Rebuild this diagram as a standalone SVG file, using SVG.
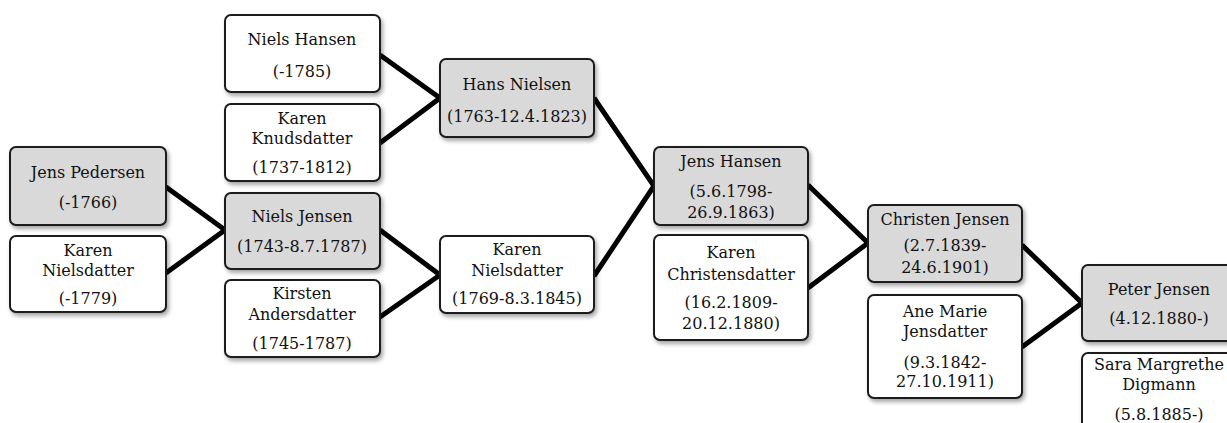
<svg xmlns="http://www.w3.org/2000/svg" width="1227" height="423" viewBox="0 0 1227 423">
<defs>
<filter id="sh" x="-10%" y="-10%" width="125%" height="130%">
<feDropShadow dx="2" dy="3" stdDeviation="2" flood-color="#000" flood-opacity="0.35"/>
</filter>
<style>
.b{stroke:#1a1a1a;stroke-width:2;filter:url(#sh)}
.g{fill:#d9d9d9}
.w{fill:#ffffff}
text{font-family:"DejaVu Serif","Liberation Serif",serif;font-size:16px;fill:#111;text-anchor:middle}
.c{fill:none;stroke:#000;stroke-width:5;stroke-linejoin:miter;stroke-miterlimit:10}
</style>
</defs>
<rect width="1227" height="423" fill="#fff"/>
<g id="connectors">
<polyline class="c" points="166,187 225,230 166,273"/>
<polyline class="c" points="380,55 440,98 380,143"/>
<polyline class="c" points="380,230 440,275 380,317"/>
<polyline class="c" points="594,98 654,186 594,276"/>
<polyline class="c" points="808,185 868,243 808,288"/>
<polyline class="c" points="1022,245 1082,303 1022,347"/>
</g>
<g id="jens-pedersen"><rect class="b g" x="10" y="147" width="156" height="78" rx="6"/><text x="88" y="178">Jens Pedersen</text><text x="88" y="208">(-1766)</text></g>
<g id="karen-nielsdatter-1"><rect class="b w" x="10" y="236" width="156" height="76" rx="6"/><text x="88" y="256">Karen</text><text x="88" y="276">Nielsdatter</text><text x="88" y="304">(-1779)</text></g>
<g id="niels-hansen"><rect class="b w" x="225" y="15" width="155" height="77" rx="6"/><text x="302" y="45">Niels Hansen</text><text x="302" y="77">(-1785)</text></g>
<g id="karen-knudsdatter"><rect class="b w" x="225" y="104" width="155" height="77" rx="6"/><text x="302" y="124">Karen</text><text x="302" y="144">Knudsdatter</text><text x="302" y="173">(1737-1812)</text></g>
<g id="niels-jensen"><rect class="b g" x="225" y="193" width="155" height="76" rx="6"/><text x="302" y="222">Niels Jensen</text><text x="302" y="252">(1743-8.7.1787)</text></g>
<g id="kirsten-andersdatter"><rect class="b w" x="225" y="280" width="155" height="77" rx="6"/><text x="302" y="299">Kirsten</text><text x="302" y="320">Andersdatter</text><text x="302" y="349">(1745-1787)</text></g>
<g id="hans-nielsen"><rect class="b g" x="440" y="59" width="154" height="78" rx="6"/><text x="517" y="90">Hans Nielsen</text><text x="517" y="122">(1763-12.4.1823)</text></g>
<g id="karen-nielsdatter-2"><rect class="b w" x="440" y="236" width="154" height="77" rx="6"/><text x="517" y="255">Karen</text><text x="517" y="276">Nielsdatter</text><text x="517" y="304">(1769-8.3.1845)</text></g>
<g id="jens-hansen"><rect class="b g" x="654" y="147" width="154" height="78" rx="6"/><text x="731" y="167">Jens Hansen</text><text x="731" y="197">(5.6.1798-</text><text x="731" y="218">26.9.1863)</text></g>
<g id="karen-christensdatter"><rect class="b w" x="654" y="235" width="154" height="105" rx="6"/><text x="731" y="258">Karen</text><text x="731" y="280">Christensdatter</text><text x="731" y="308">(16.2.1809-</text><text x="731" y="329">20.12.1880)</text></g>
<g id="christen-jensen"><rect class="b g" x="868" y="205" width="154" height="77" rx="6"/><text x="945" y="225">Christen Jensen</text><text x="945" y="251">(2.7.1839-</text><text x="945" y="273">24.6.1901)</text></g>
<g id="ane-marie-jensdatter"><rect class="b w" x="868" y="295" width="154" height="103" rx="6"/><text x="945" y="317">Ane Marie</text><text x="945" y="337">Jensdatter</text><text x="945" y="368">(9.3.1842-</text><text x="945" y="387">27.10.1911)</text></g>
<g id="peter-jensen"><rect class="b g" x="1082" y="265" width="155" height="76" rx="6"/><text x="1159" y="295">Peter Jensen</text><text x="1159" y="324">(4.12.1880-)</text></g>
<g id="sara-margrethe-digmann"><rect class="b w" x="1082" y="353" width="155" height="80" rx="6"/><text x="1159" y="370">Sara Margrethe</text><text x="1159" y="390">Digmann</text><text x="1159" y="420">(5.8.1885-)</text></g>
</svg>
